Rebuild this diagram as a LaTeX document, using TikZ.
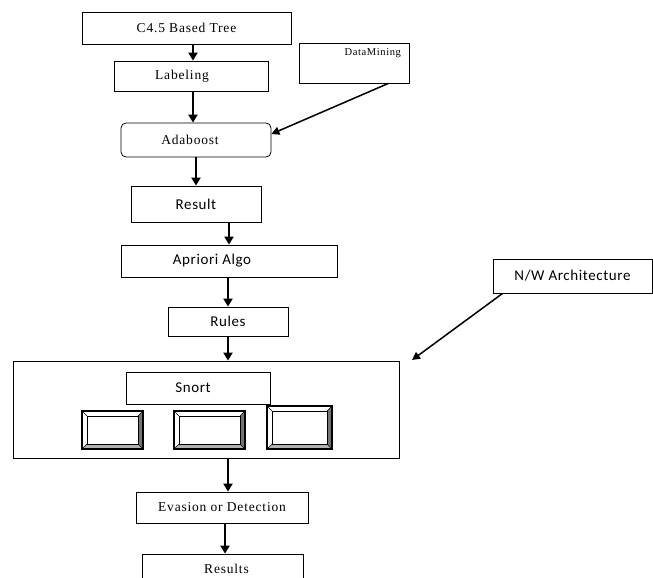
\documentclass[tikz,border=0pt]{standalone}
\usepackage{fontspec}
\setmainfont{Liberation Serif}[LetterSpace=6]
\newfontfamily\calib{Carlito}[LetterSpace=4]
\usetikzlibrary{arrows.meta}
\tikzset{
    every node/.style={draw, line width=0.8pt, inner sep=0pt, font=\fontsize{13.5}{15}\selectfont},
    sans/.style={font=\calib\fontsize{15}{17}\selectfont},
    flow/.style={line width=2.2pt, -{Triangle[length=8pt, width=9pt]}},
    thin flow/.style={line width=1.5pt, -{Triangle[length=8pt, width=8pt]}},
    bevelbox/.style={draw, line width=1.5pt, path picture={
        \fill[black!55] (path picture bounding box.north east)
            -- ([shift={(-5pt,-5pt)}]path picture bounding box.north east)
            -- ([shift={(-5pt,5pt)}]path picture bounding box.south east)
            -- (path picture bounding box.south east) -- cycle;
        \fill[black!30] (path picture bounding box.south west)
            -- ([shift={(5pt,5pt)}]path picture bounding box.south west)
            -- ([shift={(-5pt,5pt)}]path picture bounding box.south east)
            -- (path picture bounding box.south east) -- cycle;
        \draw[line width=0.8pt] ([shift={(5pt,-5pt)}]path picture bounding box.north west)
            rectangle ([shift={(-5pt,5pt)}]path picture bounding box.south east);
        \draw[line width=0.5pt]
            (path picture bounding box.north west) -- ++(5pt,-5pt)
            (path picture bounding box.north east) -- ++(-5pt,-5pt)
            (path picture bounding box.south west) -- ++(5pt,5pt)
            (path picture bounding box.south east) -- ++(-5pt,5pt);
    }}
}

\begin{document}
\begin{tikzpicture}[x=1pt, y=-1pt]
  \clip (0,0) rectangle (653,578);
  \fill[white] (0,0) rectangle (653,578);

  \node (c45) at (186.5,28) [minimum width=209pt, minimum height=32pt] {C4.5 Based Tree};
  \node (lab) at (191,76) [minimum width=154pt, minimum height=30pt] {\hspace*{-18pt}Labeling};
  \node (dm) at (354,63) [minimum width=110pt, minimum height=40pt,
      label={[draw=none, anchor=north east, inner sep=0pt, xshift=-8pt, yshift=-6pt,
      font=\fontsize{10.5}{12}\selectfont]north east:DataMining}] {};
  \node (ada) at (196,140) [minimum width=150pt, minimum height=34pt, rounded corners=5pt] {\hspace*{-12pt}Adaboost};
  \node (res) at (196,204) [sans, minimum width=130pt, minimum height=36pt] {Result};
  \node (apr) at (229,261) [sans, minimum width=216pt, minimum height=32pt] {\hspace*{-34pt}Apriori Algo};
  \node (rul) at (228,321.5) [sans, minimum width=120pt, minimum height=29pt] {Rules};
  \node (nw) at (572.5,276) [sans, minimum width=159pt, minimum height=34pt] {N/W Architecture};

  \node (net) at (206,409.5) [minimum width=386pt, minimum height=97pt] {};
  \node (snort) at (198,388) [sans, minimum width=144pt, minimum height=32pt] {\hspace*{-10pt}Snort};
  \node (b1) at (112.5,430) [bevelbox, minimum width=61pt, minimum height=38pt] {};
  \node (b2) at (209.5,430) [bevelbox, minimum width=71pt, minimum height=38pt] {};
  \node (b3) at (299.5,427.5) [bevelbox, minimum width=65pt, minimum height=43pt] {};

  \node (eva) at (222,507.5) [minimum width=172pt, minimum height=31pt] {Evasion or Detection};
  \node (out) at (222.5,572) [minimum width=161pt, minimum height=36pt] {\hspace*{8pt}\raisebox{6pt}{Results}};

  \coordinate (nwtip) at (412,360);

  \draw[flow] ([xshift=2pt]lab.north |- c45.south) -- ([xshift=2pt]lab.north);
  \draw[flow] ([xshift=2pt]lab.south) -- ([xshift=2pt]lab.south |- ada.north);
  \draw[flow] (ada.south) -- (ada.south |- res.north);
  \draw[flow] (apr.north |- res.south) -- (apr.north);
  \draw[flow] (apr.south -| rul) -- (rul.north);
  \draw[flow] (rul.south) -- (rul.south |- net.north);
  \draw[flow] (rul.south |- net.south) -- (rul.south |- eva.north);
  \draw[flow] ([xshift=3pt]eva.south) -- ([xshift=3pt]eva.south |- out.north);

  \draw[thin flow] ([xshift=-21pt]dm.south east) -- ([yshift=6pt]ada.east);
  \draw[thin flow] ([xshift=10pt]nw.south west) -- (nwtip);
\end{tikzpicture}
\end{document}
